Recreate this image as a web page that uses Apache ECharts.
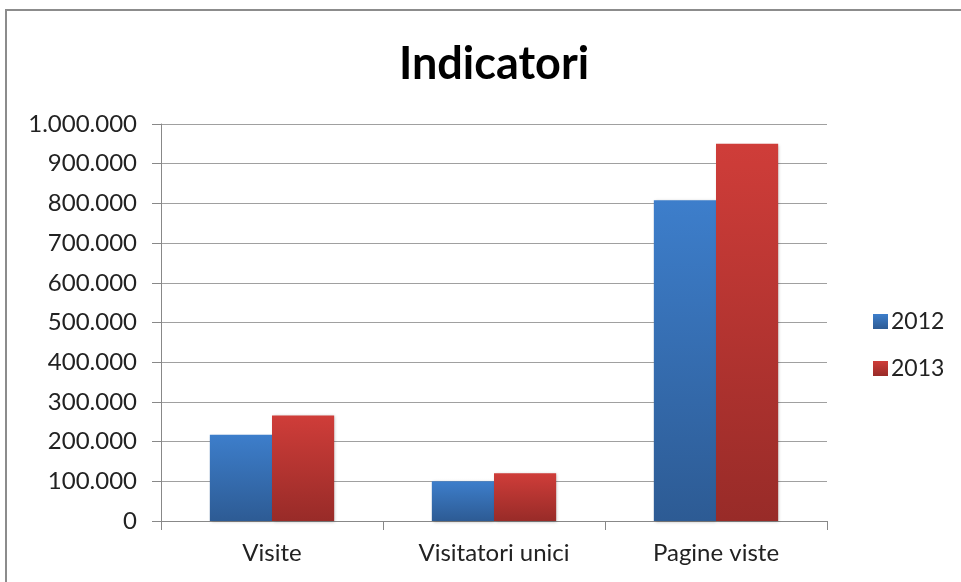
<!DOCTYPE html>
<html><head><meta charset="utf-8">
<script src="https://cdn.jsdelivr.net/npm/echarts@6/dist/echarts.min.js"></script>
<style>html,body{margin:0;padding:0;background:#fff}#c{width:961px;height:582px}</style>
</head><body><div id="c"></div>
<script>
const categories = ['Visite', 'Visitatori unici', 'Pagine viste'];
const seriesNames = ['2012', '2013'];
const values2012 = [217000, 100000, 808000];
const values2013 = [266000, 120000, 950000];

function fmt(v){ return String(v).replace(/\B(?=(\d{3})+(?!\d))/g, '.'); }
function grad(top, bottom){
  return new echarts.graphic.LinearGradient(0,0,0,1,[{offset:0,color:top},{offset:1,color:bottom}]);
}
const chart = echarts.init(document.getElementById('c'));
chart.setOption({
  animation:false,
  backgroundColor:'#fff',
  graphic:[{type:'rect',shape:{x:6,y:10,width:1000,height:600},style:{fill:'none',stroke:'#8c8c8c',lineWidth:2},silent:true}],
  title:{text:'Indicatori',left:489,top:37,textAlign:'center',textStyle:{fontFamily:'Lato',fontWeight:'bold',fontSize:45,color:'#000'}},
  legend:{orient:'vertical',left:868,top:305,itemGap:24,itemWidth:15,itemHeight:15,icon:'rect',
    textStyle:{fontFamily:'Lato',fontSize:23,color:'#222',padding:[0,0,0,-2]},data:seriesNames},
  grid:{left:161,right:134,top:124,bottom:61,containLabel:false},
  xAxis:{type:'category',data:categories,
    axisLine:{lineStyle:{color:'#888',width:1}},
    axisTick:{show:true,length:9,lineStyle:{color:'#888'}},
    axisLabel:{fontFamily:'Lato',fontSize:24,color:'#222',margin:20}},
  yAxis:{type:'value',min:0,max:1000000,interval:100000,
    axisLine:{show:true,lineStyle:{color:'#888'}},
    axisTick:{show:true,length:9,lineStyle:{color:'#888'}},
    splitLine:{lineStyle:{color:'#a0a0a0'}},
    axisLabel:{fontFamily:'Lato',fontSize:24,color:'#222',margin:24,formatter:fmt}},
  series:[
    {name:'2012',type:'bar',data:values2012,barGap:'0%',barCategoryGap:'44%',
     itemStyle:{color:grad('#3d7ecb','#2d5b94'),shadowColor:'rgba(0,0,0,0.25)',shadowBlur:3,shadowOffsetX:1,shadowOffsetY:1}},
    {name:'2013',type:'bar',data:values2013,barGap:'0%',barCategoryGap:'44%',
     itemStyle:{color:grad('#cf3d39','#982b28'),shadowColor:'rgba(0,0,0,0.25)',shadowBlur:3,shadowOffsetX:1,shadowOffsetY:1}}
  ]
});
</script></body></html>
